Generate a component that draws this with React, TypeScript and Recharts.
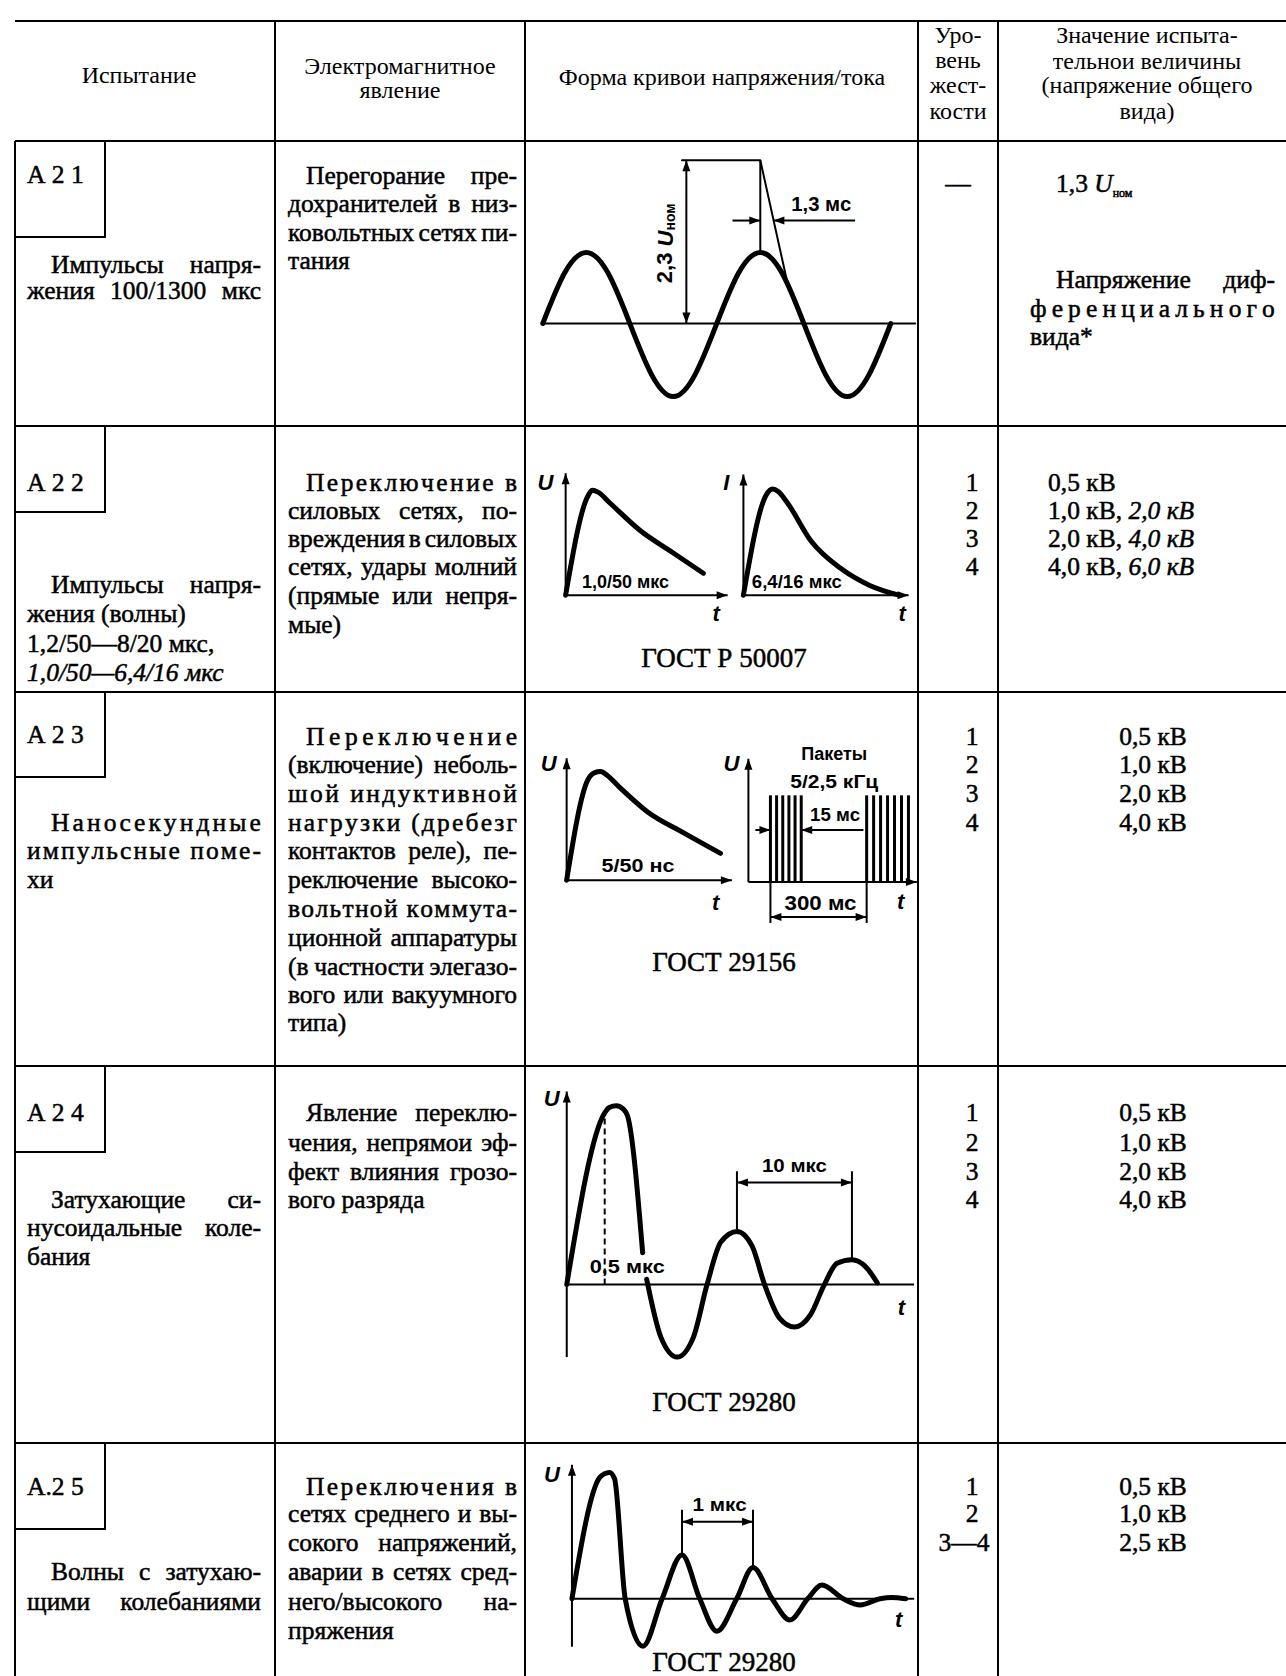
import React from 'react'
import { ComposedChart, Line, XAxis, YAxis, ReferenceLine, ReferenceDot } from 'recharts'

type Pt = { x: number; y: number | null }
const pts = (a: (number | null)[][]): Pt[] => a.map(([x, y]) => ({ x: x as number, y }))

// А 2 1 — сеть, t в мс, U в долях амплитуды
const sineWave = pts([
  [0, 0], [2.5, 0.71], [5, 1], [7.5, 0.71], [10, 0], [12.5, -0.72], [15, -1.03], [17.5, -0.72],
  [20, 0], [22.5, 0.71], [25, 1], [27.5, 0.71], [30, 0], [32.5, -0.72], [35, -1.03], [37.5, -0.72], [40, 0],
])
const sineAxis = pts([[0, 0], [42.8, 0]])
const fuseImpulse = pts([[16, 2.3], [25, 2.3], [28.1, 0.58]])

// А 2 2 — 1,0/50 и 6,4/16 мкс (условные единицы рисунка)
const surgeU = pts([[0, 0], [14, 82], [16.5, 86], [20, 84.5], [27, 76], [46, 53], [66, 35], [85, 18]])
const surgeI = pts([[0, 0], [14, 82], [18, 87], [21.5, 85], [27, 76], [42, 44], [60, 22], [78, 8], [96, 0]])

// А 2 3 — 5/50 нс и пакеты
const eftPulse = pts([[0, 0], [13, 82], [17, 88], [21, 89], [25, 86], [32, 77], [50, 56], [72, 39], [95, 22]])
const burstA = [13.6, 17.4, 21.2, 25, 28.8, 32.6]
const burstB = [73, 77.3, 81.6, 85.9, 90.2, 94.5, 98.8]
const burstHeight = 71

// А 2 4 — затухающая синусоида, мкс
const ringWave = pts([
  [0, 0], [3.3, 0.97], [3.7, 1.0], [4.3, 1.01], [4.95, 0.99], [5.3, 0.95], [6.6, 0.18], [6.8, null],
  [6.95, 0.03], [8.2, -0.3], [9.6, -0.41], [11, -0.3], [12.2, 0], [13.4, 0.24], [14.8, 0.3], [16.1, 0.22],
  [17.2, 0], [18.5, -0.19], [19.8, -0.24], [21.2, -0.17], [22.4, 0], [23.5, 0.12], [24.8, 0.14], [26, 0.1], [27, 0.01],
])
const ringPeaks = [14.8, 24.8]

// А 2 5 — волна с затухающими колебаниями, мкс
const dampedWave = pts([
  [0, 0], [0.39, 0.97], [0.46, 1.0], [0.53, 1.01], [0.6, 0.96], [0.75, 0], [1.0, -0.38], [1.27, 0],
  [1.55, 0.35], [1.8, 0], [2.04, -0.26], [2.32, 0], [2.55, 0.25], [2.82, 0], [3.07, -0.17], [3.32, 0],
  [3.52, 0.11], [3.82, 0], [4.06, -0.05], [4.34, 0], [4.5, 0.01], [4.7, 0],
])
const dampedPeaks = [1.55, 2.55]

const SERIF = "'Liberation Serif', 'Times New Roman', serif"
const SANS = "'Liberation Sans', Arial, sans-serif"
const LH = 24
const FS = 25.5

type Ln = { y: number; t: string; m?: 'j' | 's' | 'l'; ind?: boolean; it?: boolean }

const headerText = [
  { x: 139, y: 75, t: 'Испытание' },
  { x: 400, y: 66, t: 'Электромагнитное' },
  { x: 400, y: 90, t: 'явление' },
  { x: 722, y: 77, t: 'Форма кривои напряжения/тока' },
  { x: 958, y: 35, t: 'Уро-' },
  { x: 958, y: 60, t: 'вень' },
  { x: 958, y: 85, t: 'жест-' },
  { x: 958, y: 111, t: 'кости' },
  { x: 1147, y: 35, t: 'Значение испыта-' },
  { x: 1147, y: 61, t: 'тельнои величины' },
  { x: 1147, y: 85, t: '(напряжение общего' },
  { x: 1147, y: 111, t: 'вида)' },
]

const boxes = [
  { top: 141, h: 96, ty: 175, t: 'А 2 1' },
  { top: 426, h: 86, ty: 483, t: 'А 2 2' },
  { top: 692, h: 85, ty: 735, t: 'А 2 3' },
  { top: 1066, h: 86, ty: 1113, t: 'А 2 4' },
  { top: 1443, h: 86, ty: 1487, t: 'А.2 5' },
]

const col1Lines: Ln[] = [
  { y: 265, t: 'Импульсы напря-', m: 'j', ind: true },
  { y: 291, t: 'жения 100/1300 мкс', m: 'j' },
  { y: 585, t: 'Импульсы напря-', m: 'j', ind: true },
  { y: 614, t: 'жения  (волны)' },
  { y: 644, t: '1,2/50—8/20 мкс,' },
  { y: 673, t: '1,0/50—6,4/16 мкс', it: true },
  { y: 823, t: 'Наносекундные', m: 's', ind: true },
  { y: 851, t: 'импульсные поме-', m: 's' },
  { y: 880, t: 'хи' },
  { y: 1200, t: 'Затухающие си-', m: 'j', ind: true },
  { y: 1228, t: 'нусоидальные коле-', m: 'j' },
  { y: 1257, t: 'бания' },
  { y: 1572, t: 'Волны с затухаю-', m: 'j', ind: true },
  { y: 1602, t: 'щими колебаниями', m: 'j' },
]

const col2Lines: Ln[] = [
  { y: 176, t: 'Перегорание пре-', m: 'j', ind: true },
  { y: 204, t: 'дохранителей в низ-', m: 'j' },
  { y: 233, t: 'ковольтных сетях пи-', m: 'j' },
  { y: 261, t: 'тания' },
  { y: 483, t: 'Переключение в', m: 's', ind: true },
  { y: 511, t: 'силовых сетях, по-', m: 'j' },
  { y: 539, t: 'вреждения в силовых', m: 'j' },
  { y: 567, t: 'сетях, удары молний', m: 'j' },
  { y: 596, t: '(прямые или непря-', m: 'j' },
  { y: 625, t: 'мые)' },
  { y: 737, t: 'Переключение', m: 's', ind: true },
  { y: 765, t: '(включение) неболь-', m: 'j' },
  { y: 794, t: 'шой индуктивной', m: 's' },
  { y: 823, t: 'нагрузки (дребезг', m: 's' },
  { y: 851, t: 'контактов реле), пе-', m: 'j' },
  { y: 880, t: 'реключение высоко-', m: 'j' },
  { y: 909, t: 'вольтной коммута-', m: 's' },
  { y: 938, t: 'ционной аппаратуры', m: 'j' },
  { y: 967, t: '(в частности элегазо-', m: 'j' },
  { y: 995, t: 'вого или вакуумного', m: 'j' },
  { y: 1023, t: 'типа)' },
  { y: 1113, t: 'Явление переклю-', m: 'j', ind: true },
  { y: 1143, t: 'чения, непрямои эф-', m: 'j' },
  { y: 1172, t: 'фект влияния грозо-', m: 'j' },
  { y: 1200, t: 'вого разряда' },
  { y: 1487, t: 'Переключения в', m: 's', ind: true },
  { y: 1514, t: 'сетях среднего и вы-', m: 'j' },
  { y: 1543, t: 'сокого напряжений,', m: 'j' },
  { y: 1572, t: 'аварии в сетях сред-', m: 'j' },
  { y: 1602, t: 'него/высокого на-', m: 'j' },
  { y: 1631, t: 'пряжения' },
]

const levelRows = [
  { ys: [184], t: ['—'] },
  { ys: [483, 511, 539, 567], t: ['1', '2', '3', '4'] },
  { ys: [737, 765, 794, 823], t: ['1', '2', '3', '4'] },
  { ys: [1113, 1143, 1172, 1200], t: ['1', '2', '3', '4'] },
  { ys: [1487, 1514, 1543], t: ['1', '2', '3—4'] },
]

const valueLines: Ln[] = [
  { y: 280, t: 'Напряжение диф-', m: 'j', ind: true },
  { y: 309, t: 'ференциального', m: 's' },
  { y: 337, t: 'вида*' },
]
const surgeLevels = [
  { y: 483, a: '0,5  кВ', b: '' },
  { y: 511, a: '1,0 кВ, ', b: '2,0 кВ' },
  { y: 539, a: '2,0 кВ, ', b: '4,0 кВ' },
  { y: 567, a: '4,0 кВ, ', b: '6,0 кВ' },
]
const centeredLevels = [
  { ys: [737, 765, 794, 823], t: ['0,5 кВ', '1,0 кВ', '2,0 кВ', '4,0 кВ'] },
  { ys: [1113, 1143, 1172, 1200], t: ['0,5 кВ', '1,0 кВ', '2,0 кВ', '4,0 кВ'] },
  { ys: [1487, 1514, 1543], t: ['0,5 кВ', '1,0 кВ', '2,5 кВ'] },
]

const captions = [
  { y: 658, t: 'ГОСТ Р 50007' },
  { y: 962, t: 'ГОСТ 29156' },
  { y: 1402, t: 'ГОСТ 29280' },
  { y: 1662, t: 'ГОСТ 29280' },
]

const rowLines = [141, 426, 692, 1066, 1443]
const colLines = [275, 525, 918, 998]

// ---------- chart helpers ----------
const HEAD = 11
const HALF = 4

function arrowShape(heads: 'none' | 'end' | 'both', sw = 2, dash?: string) {
  return (p: any) => {
    const { x1, y1, x2, y2 } = p
    const dx = x2 - x1
    const dy = y2 - y1
    const len = Math.hypot(dx, dy) || 1
    const ux = dx / len
    const uy = dy / len
    const tri = (tx: number, ty: number, vx: number, vy: number) => {
      const bx = tx - vx * HEAD
      const by = ty - vy * HEAD
      return `${tx},${ty} ${bx - vy * HALF},${by + vx * HALF} ${bx + vy * HALF},${by - vx * HALF}`
    }
    return (
      <g>
        <line x1={x1} y1={y1} x2={x2} y2={y2} stroke="#000" strokeWidth={sw} strokeDasharray={dash} />
        {heads !== 'none' && <polygon points={tri(x2, y2, ux, uy)} fill="#000" />}
        {heads === 'both' && <polygon points={tri(x1, y1, -ux, -uy)} fill="#000" />}
      </g>
    )
  }
}

function labelShape(text: string, size: number, len?: number, italic = false) {
  return (p: any) => (
    <text
      x={p.cx}
      y={p.cy}
      textAnchor="middle"
      dominantBaseline="central"
      fontFamily={SANS}
      fontWeight="bold"
      fontStyle={italic ? 'italic' : 'normal'}
      fontSize={size}
      textLength={len}
      lengthAdjust={len ? 'spacingAndGlyphs' : undefined}
      fill="#000"
    >
      {text}
    </text>
  )
}

const ratedShape = (p: any) => (
  <text
    x={p.cx}
    y={p.cy}
    transform={`rotate(-90 ${p.cx} ${p.cy})`}
    textAnchor="middle"
    dominantBaseline="central"
    fontFamily={SANS}
    fontWeight="bold"
    fontSize={22}
    fill="#000"
  >
    2,3 <tspan fontStyle="italic">U</tspan>
    <tspan fontSize={14} dy={5}>ном</tspan>
  </text>
)

const wave = (key: string, data: Pt[], sw = 5, type: any = 'monotone') => (
  <Line
    key={key}
    data={data}
    dataKey="y"
    type={type}
    stroke="#000"
    strokeWidth={sw}
    dot={false}
    activeDot={false}
    isAnimationActive={false}
    strokeLinejoin="round"
    strokeLinecap="round"
  />
)

const seg = (key: string, a: number[], b: number[], heads: 'none' | 'end' | 'both' = 'none', sw = 2, dash?: string) => (
  <ReferenceLine
    key={key}
    segment={[{ x: a[0], y: a[1] }, { x: b[0], y: b[1] }]}
    ifOverflow="visible"
    shape={arrowShape(heads, sw, dash)}
  />
)

const tag = (key: string, x: number, y: number, shape: any) => (
  <ReferenceDot key={key} x={x} y={y} r={0} ifOverflow="visible" shape={shape} />
)

function Plot({ ox, oy, sx, sy, xd, yd, children }: any) {
  const left = ox + xd[0] * sx
  const width = (xd[1] - xd[0]) * sx
  const top = oy - yd[1] * sy
  const height = (yd[1] - yd[0]) * sy
  return (
    <div style={{ position: 'absolute', left, top }}>
      <ComposedChart width={width} height={height} margin={{ top: 0, right: 0, bottom: 0, left: 0 }}>
        <XAxis type="number" dataKey="x" domain={xd} hide allowDataOverflow />
        <YAxis type="number" domain={yd} hide allowDataOverflow />
        {children}
      </ComposedChart>
    </div>
  )
}

// ---------- text helpers ----------
const bodyStyle = (fontStyle = 'normal'): React.CSSProperties => ({
  position: 'absolute',
  height: LH,
  lineHeight: LH + 'px',
  fontSize: FS,
  fontFamily: SERIF,
  fontStyle,
  whiteSpace: 'nowrap',
  color: '#000',
  WebkitTextStroke: '0.5px #000',
})

function TextBlock({ x, w, indent, lines }: { x: number; w: number; indent: number; lines: Ln[] }) {
  return (
    <>
      {lines.map((l, i) => {
        const left = x + (l.ind ? indent : 0)
        const width = w - (l.ind ? indent : 0)
        const st = { ...bodyStyle(l.it ? 'italic' : 'normal'), left, width, top: l.y - LH / 2 }
        if (l.m === 'j' || l.m === 's') {
          const parts = l.m === 'j' ? l.t.split(/\s+/) : Array.from(l.t).map((c) => (c === ' ' ? '\u00a0' : c))
          return (
            <div key={i} style={{ ...st, display: 'flex', justifyContent: 'space-between' }}>
              {parts.map((p, k) => (
                <span key={k}>{p}</span>
              ))}
            </div>
          )
        }
        return (
          <div key={i} style={st}>
            {l.t}
          </div>
        )
      })}
    </>
  )
}

const Centered = ({ cx, y, children, size = FS, w = 300 }: any) => (
  <div style={{ ...bodyStyle(), left: cx - w / 2, width: w, top: y - LH / 2, textAlign: 'center', fontSize: size }}>
    {children}
  </div>
)

const hl = (x1: number, x2: number, y: number, k: string) => (
  <div key={k} style={{ position: 'absolute', left: x1, top: y - 1, width: x2 - x1, height: 2, background: '#000' }} />
)
const vl = (x: number, y1: number, y2: number, k: string) => (
  <div key={k} style={{ position: 'absolute', left: x - 1, top: y1, width: 2, height: y2 - y1, background: '#000' }} />
)

export default function App() {
  return (
    <div style={{ position: 'absolute', left: 0, top: 0, width: 1286, height: 1676, background: '#fff', overflow: 'hidden' }}>
      {/* сетка таблицы */}
      {hl(15, 1286, 21, 'top')}
      {rowLines.map((y, i) => hl(15, 1286, y, 'r' + i))}
      {vl(15, 141, 1676, 'left')}
      {colLines.map((x, i) => vl(x, 21, 1676, 'c' + i))}
      {boxes.map((b, i) => (
        <React.Fragment key={'b' + i}>
          {vl(105, b.top, b.top + b.h, 'bv' + i)}
          {hl(15, 106, b.top + b.h, 'bh' + i)}
          <div style={{ ...bodyStyle(), left: 27, top: b.ty - LH / 2 }}>{b.t}</div>
        </React.Fragment>
      ))}

      {/* шапка */}
      {headerText.map((h, i) => (
        <div
          key={'h' + i}
          style={{
            position: 'absolute',
            left: h.x - 200,
            width: 400,
            top: h.y - 12,
            height: 24,
            lineHeight: '24px',
            textAlign: 'center',
            fontFamily: SERIF,
            fontSize: 24,
            whiteSpace: 'nowrap',
          }}
        >
          {h.t}
        </div>
      ))}

      <TextBlock x={27} w={234} indent={24} lines={col1Lines} />
      <TextBlock x={288} w={229} indent={18} lines={col2Lines} />

      {levelRows.map((r, i) =>
        r.ys.map((y, k) => (
          <Centered
            key={'lv' + i + k}
            cx={i === 0 ? 958 : r.t[k].length > 1 ? 964 : 972}
            y={y}
            w={70}
          >
            {r.t[k]}
          </Centered>
        )),
      )}

      <div style={{ ...bodyStyle(), left: 1056, top: 184 - LH / 2 }}>
        1,3 <i>U</i>
        <span style={{ fontSize: 12, position: 'relative', top: 5 }}>ном</span>
      </div>
      <TextBlock x={1030} w={245} indent={26} lines={valueLines} />
      {surgeLevels.map((s, i) => (
        <div key={'sl' + i} style={{ ...bodyStyle(), left: 1048, top: s.y - LH / 2 }}>
          {s.a}
          <i>{s.b}</i>
        </div>
      ))}
      {centeredLevels.map((r, i) =>
        r.ys.map((y, k) => (
          <Centered key={'cv' + i + k} cx={1153} y={y} w={200}>
            {r.t[k]}
          </Centered>
        )),
      )}

      {captions.map((c, i) => (
        <Centered key={'cap' + i} cx={724} y={c.y} size={27} w={300}>
          {c.t}
        </Centered>
      ))}

      {/* А 2 1 */}
      <Plot ox={543} oy={323} sx={8.7} sy={71} xd={[-4, 43.5]} yd={[-1.4, 2.5]}>
        {wave('axis', sineAxis, 2, 'linear')}
        {wave('sine', sineWave, 5, 'natural')}
        {wave('imp', fuseImpulse, 2, 'linear')}
        {seg('v25', [25, 1], [25, 2.3])}
        {seg('dim23', [16.5, 0], [16.5, 2.3], 'both')}
        {seg('d13a', [21.8, 1.45], [25, 1.45], 'end')}
        {seg('d13b', [35.9, 1.45], [26.5, 1.45], 'end')}
        {tag('l23', 14, 1.13, ratedShape)}
        {tag('l13', 32, 1.68, labelShape('1,3 мс', 20, 60))}
      </Plot>

      {/* А 2 2 */}
      <Plot ox={566} oy={595} sx={1.62} sy={1.22} xd={[-22, 110]} yd={[-25, 110]}>
        {seg('ax', [0, 0], [0, 100], 'end')}
        {seg('at', [0, 0], [100, 0], 'end')}
        {wave('u', surgeU)}
        {tag('U', -12.5, 92, labelShape('U', 22, undefined, true))}
        {tag('t', 93, -15, labelShape('t', 22, undefined, true))}
        {tag('lab', 37, 11, labelShape('1,0/50 мкс', 18, 87))}
      </Plot>
      <Plot ox={743} oy={595} sx={1.62} sy={1.22} xd={[-20, 108]} yd={[-25, 110]}>
        {seg('ax', [0, 0], [0, 99], 'end')}
        {seg('at', [0, 0], [102, 0], 'end')}
        {wave('i', surgeI)}
        {tag('I', -10.5, 92, labelShape('I', 22, undefined, true))}
        {tag('t', 98, -15, labelShape('t', 22, undefined, true))}
        {tag('lab', 33, 11, labelShape('6,4/16 мкс', 18, 90))}
      </Plot>

      {/* А 2 3 */}
      <Plot ox={567} oy={880} sx={1.62} sy={1.22} xd={[-22, 110]} yd={[-28, 110]}>
        {seg('ax', [0, 0], [0, 100], 'end')}
        {seg('at', [0, 0], [102, 0], 'end')}
        {wave('p', eftPulse)}
        {tag('U', -11, 96, labelShape('U', 22, undefined, true))}
        {tag('t', 92, -18, labelShape('t', 22, undefined, true))}
        {tag('lab', 44, 12, labelShape('5/50 нс', 19, 73))}
      </Plot>
      <Plot ox={748} oy={882} sx={1.62} sy={1.22} xd={[-20, 107]} yd={[-40, 118]}>
        {seg('ax', [0, 0], [0, 101], 'end')}
        {seg('at', [0, 0], [104, 0], 'end')}
        {[...burstA, ...burstB].map((x, i) => seg('b' + i, [x, 0], [x, burstHeight], 'none', 3))}
        {seg('d15a', [4.3, 42.6], [burstA[0], 42.6], 'end')}
        {seg('d15b', [71, 42.6], [burstA[burstA.length - 1], 42.6], 'end')}
        {seg('e1', [burstA[0], 0], [burstA[0], -33.6])}
        {seg('e2', [burstB[0], 0], [burstB[0], -33.6])}
        {seg('d300', [burstA[0], -28.7], [burstB[0], -28.7], 'both')}
        {tag('U', -10.5, 97.5, labelShape('U', 22, undefined, true))}
        {tag('t', 94, -16.4, labelShape('t', 22, undefined, true))}
        {tag('l15', 53.5, 55, labelShape('15 мс', 18, 50))}
        {tag('l300', 44.5, -17.2, labelShape('300 мс', 20, 72))}
        {tag('pk', 53, 105.7, labelShape('Пакеты', 19, 66))}
        {tag('fr', 53, 82, labelShape('5/2,5 кГц', 19, 88))}
      </Plot>

      {/* А 2 4 */}
      <Plot ox={567} oy={1285} sx={11.5} sy={177} xd={[-2.5, 31]} yd={[-0.5, 1.15]}>
        {seg('ax', [0, -0.41], [0, 1.09], 'end')}
        {seg('at', [0, 0], [30.2, 0], 'none')}
        {wave('r', ringWave)}
        {seg('dash', [3.3, 0], [3.3, 0.97], 'none', 2, '6 4')}
        {seg('p1', [ringPeaks[0], 0.3], [ringPeaks[0], 0.64])}
        {seg('p2', [ringPeaks[1], 0.14], [ringPeaks[1], 0.64])}
        {seg('d10', [ringPeaks[0], 0.576], [ringPeaks[1], 0.576], 'both')}
        {tag('U', -1.3, 1.05, labelShape('U', 22, undefined, true))}
        {tag('t', 29.1, -0.13, labelShape('t', 22, undefined, true))}
        {tag('l05', 5.26, 0.1, labelShape('0,5 мкс', 18, 75))}
        {tag('l10', 19.8, 0.67, labelShape('10 мкс', 18, 65))}
      </Plot>

      {/* А 2 5 */}
      <Plot ox={572} oy={1599} sx={71} sy={125} xd={[-0.45, 4.9]} yd={[-0.45, 1.15]}>
        {seg('ax', [0, -0.384], [0, 1.072], 'end')}
        {seg('at', [0, 0], [4.82, 0], 'none')}
        {wave('d', dampedWave)}
        {seg('p1', [dampedPeaks[0], 0.35], [dampedPeaks[0], 0.712])}
        {seg('p2', [dampedPeaks[1], 0.25], [dampedPeaks[1], 0.712])}
        {seg('d1', [dampedPeaks[0], 0.616], [dampedPeaks[1], 0.616], 'both')}
        {tag('U', -0.28, 0.99, labelShape('U', 22, undefined, true))}
        {tag('t', 4.6, -0.17, labelShape('t', 22, undefined, true))}
        {tag('l1', 2.08, 0.75, labelShape('1 мкс', 18, 54))}
      </Plot>
    </div>
  )
}
